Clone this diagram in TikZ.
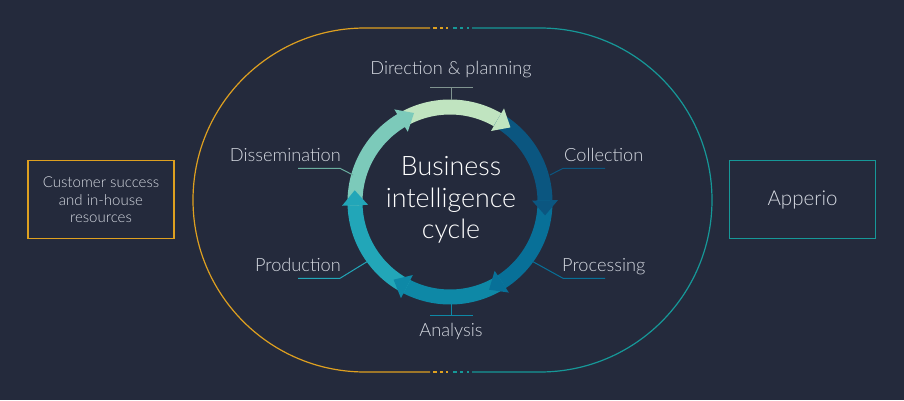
\documentclass[tikz,border=0pt]{standalone}
\usepackage{fontspec}
\setmainfont{Lato}[UprightFont={* Light}]

\definecolor{bgnavy}{RGB}{36,42,60}
\definecolor{trackgold}{RGB}{222,160,32}
\definecolor{trackteal}{RGB}{22,152,152}
\definecolor{labelgrey}{RGB}{214,218,226}
\definecolor{cycdir}{RGB}{192,228,192}
\definecolor{cyccol}{RGB}{11,86,128}
\definecolor{cycproc}{RGB}{8,112,152}
\definecolor{cycana}{RGB}{14,136,166}
\definecolor{cycprod}{RGB}{34,166,184}
\definecolor{cycdis}{RGB}{124,202,186}
\definecolor{leaddir}{RGB}{128,148,144}

\tikzset{
  lbl/.style={font=\fontsize{18.2}{21}\selectfont, text=labelgrey, inner sep=0pt},
  leader/.style={line width=1pt},
  track/.style={line width=1.2pt},
  sidebox/.style={draw, line width=1.3pt, minimum width=146pt, minimum height=78pt,
                  text=labelgrey, align=center, inner sep=0pt},
}

\begin{document}
\begin{tikzpicture}[x=1pt,y=1pt]

% --- Background ---
\fill[bgnavy] (0,0) rectangle (904,400);
\useasboundingbox (0,0) rectangle (904,400);

% --- Outer track ---
\draw[track, trackgold] (430,28) -- (365,28) arc[start angle=270, end angle=90, radius=172pt] -- (430,372);
\draw[track, trackteal] (472,28) -- (540,28) arc[start angle=-90, end angle=90, radius=172pt] -- (472,372);
\foreach \a/\b in {433/437, 440/443, 446/448} {
    \draw[track, trackgold] (\a,28) -- (\b,28);
    \draw[track, trackgold] (\a,372) -- (\b,372);
}
\foreach \a/\b in {453/457, 460/463, 467/469} {
    \draw[track, trackteal] (\a,28) -- (\b,28);
    \draw[track, trackteal] (\a,372) -- (\b,372);
}

% --- Cycle ring ---
\begin{scope}[shift={(450,198)}]
\foreach \s/\e/\c in {121/59/cycdir, 60/0/cyccol, 1/-58/cycproc,
                      -57/-118/cycana, -117/-179/cycprod, -178/-240/cycdis} {
    \draw[\c, line width=15pt] (\s:95pt) arc[start angle=\s, end angle=\e, radius=95pt];
}
\foreach \t/\c in {51/cycdir, -8/cyccol, -66/cycproc, -126/cycana, -187/cycprod, -248/cycdis} {
    \fill[\c] (\t:96pt) -- ({\t+9}:108pt) -- ({\t+9}:82pt) -- cycle;
}
\end{scope}

\node[font=\fontsize{26.8}{31.5}\selectfont, text=white, align=center] (bic) at (451,200)
    {Business\\intelligence\\cycle};

% --- Stage labels ---
\node[lbl, anchor=base] (dir) at (451,326) {Direction \& planning};
\node[lbl, anchor=base] (ana) at (451,64) {Analysis};
\node[lbl, anchor=base west] (col) at (564,238.5) {Collection};
\node[lbl, anchor=base west] (proc) at (562,128.5) {Processing};
\node[lbl, anchor=base east] (dis) at (341,239) {Dissemination};
\node[lbl, anchor=base east] (prod) at (341,128.3) {Production};

% --- Leaders ---
\coordinate (dirA) at (451,300);
\coordinate (dirB) at (451,312.7);
\draw[leader, leaddir] (dirA) -- (dirB);
\draw[leader, leaddir] (430,312.7) coordinate (dirL) -- (473,312.7) coordinate (dirR);
\coordinate (anaA) at (451,96);
\coordinate (anaB) at (451,85);
\draw[leader, cycana] (anaA) -- (anaB);
\draw[leader, cycana] (430,85) coordinate (anaL) -- (473,85) coordinate (anaR);
\coordinate (colA) at (550,225);
\coordinate (colB) at (563,231.7);
\coordinate (colC) at (605,231.7);
\draw[leader, cyccol] (colA) -- (colB) -- (colC);
\coordinate (procA) at (533,138.3);
\coordinate (procB) at (563,121.7);
\coordinate (procC) at (605,121.7);
\draw[leader, cycproc] (procA) -- (procB) -- (procC);
\coordinate (disA) at (353,225);
\coordinate (disB) at (340,231.7);
\coordinate (disC) at (298,231.7);
\draw[leader, cycdis!85!black] (disA) -- (disB) -- (disC);
\coordinate (prodA) at (367,138.3);
\coordinate (prodB) at (340,121.7);
\coordinate (prodC) at (298,121.7);
\draw[leader, cycprod] (prodA) -- (prodB) -- (prodC);

% --- Side boxes ---
\node[sidebox, trackgold, text=labelgrey, font=\fontsize{15}{17.6}\selectfont] (team) at (101,200.2)
    {Customer success\\and in-house\\resources};
\node[sidebox, trackteal, text=labelgrey, font=\fontsize{20.5}{22}\selectfont] (app) at (802.5,200.2) {Apperio};

\end{tikzpicture}
\end{document}
